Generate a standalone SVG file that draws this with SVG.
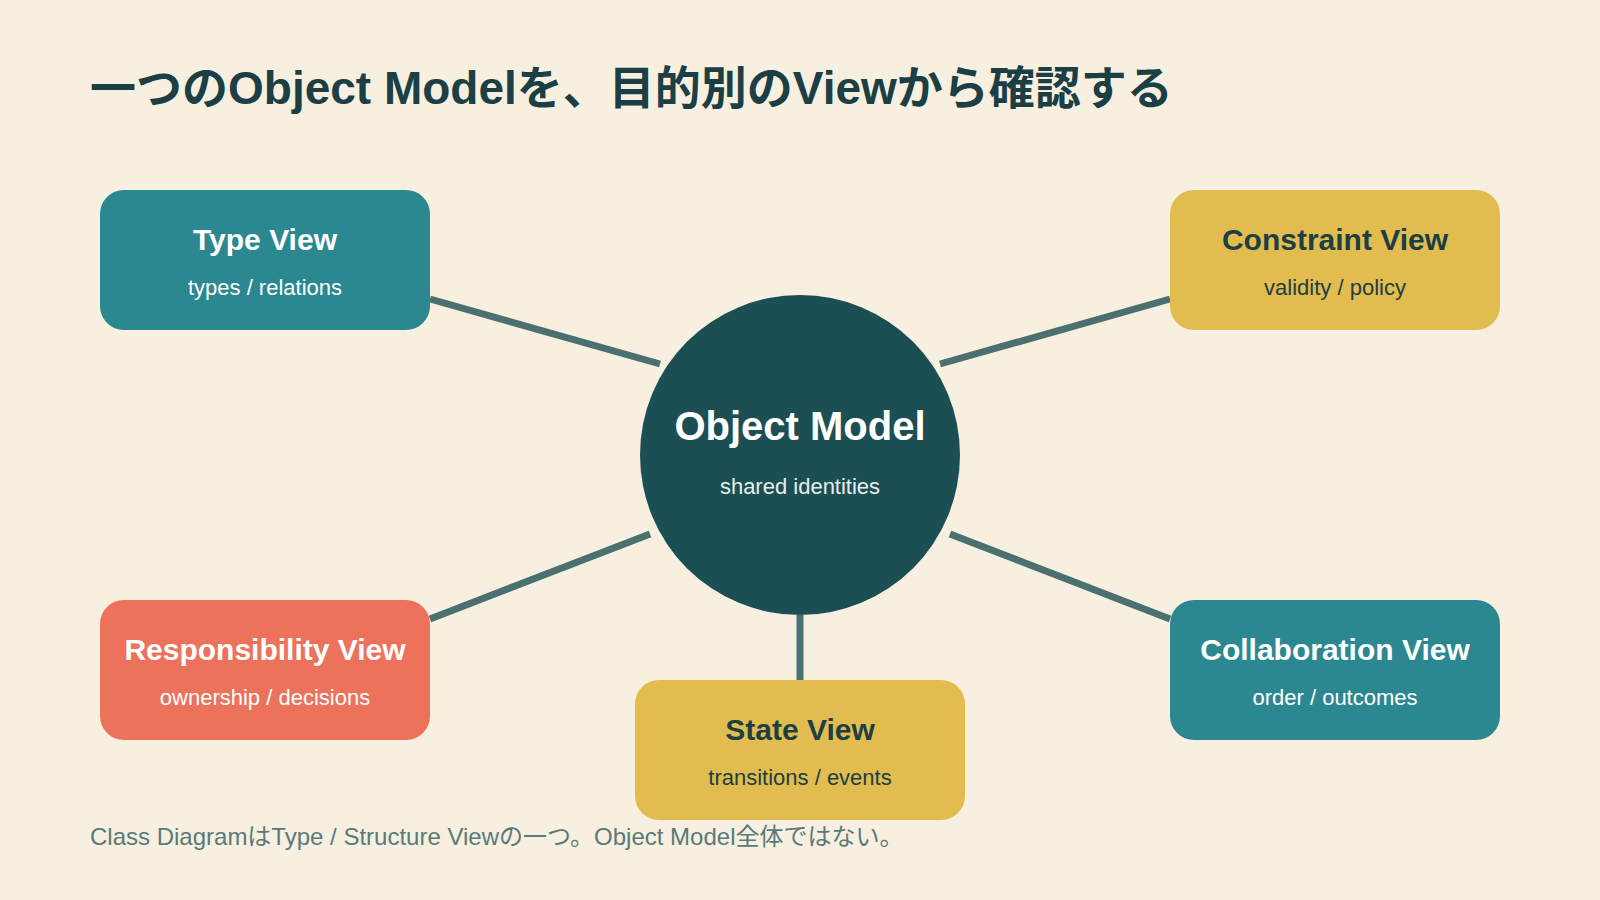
<svg xmlns="http://www.w3.org/2000/svg" width="1600" height="900" viewBox="0 0 1600 900">
<style>
text{font-family:"Liberation Sans","Noto Sans CJK JP",sans-serif;text-anchor:middle}
.t{font-size:30px;font-weight:bold}
.s{font-size:22px}
.w{fill:#ffffff}
.d{fill:#1b3f44}
.c{stroke:#4a7070;stroke-width:7;fill:none}
</style>
<rect width="1600" height="900" fill="#f7f0e0"/>
<text x="90" y="104" style="text-anchor:start;font-size:46px;font-weight:bold" fill="#1b3f44">一つのObject Modelを、目的別のViewから確認する</text>
<g id="connectors">
<line class="c" x1="430" y1="299" x2="660" y2="364"/>
<line class="c" x1="1170" y1="299" x2="940" y2="364"/>
<line class="c" x1="430" y1="619" x2="650" y2="534"/>
<line class="c" x1="1170" y1="619" x2="950" y2="534"/>
<line class="c" x1="800" y1="615" x2="800" y2="680"/>
</g>
<g id="center">
<circle cx="800" cy="455" r="160" fill="#1b4f53"/>
<text x="800" y="440" class="w" style="font-size:40px;font-weight:bold">Object Model</text>
<text x="800" y="494" class="s" fill="#e8eeee">shared identities</text>
</g>
<g id="type">
<rect x="100" y="190" width="330" height="140" rx="24" fill="#2b8890"/>
<text x="265" y="250" class="t w">Type View</text>
<text x="265" y="295" class="s w">types / relations</text>
</g>
<g id="constraint">
<rect x="1170" y="190" width="330" height="140" rx="24" fill="#e2bc4e"/>
<text x="1335" y="250" class="t d">Constraint View</text>
<text x="1335" y="295" class="s d">validity / policy</text>
</g>
<g id="responsibility">
<rect x="100" y="600" width="330" height="140" rx="24" fill="#ec725c"/>
<text x="265" y="660" class="t w">Responsibility View</text>
<text x="265" y="705" class="s w">ownership / decisions</text>
</g>
<g id="collaboration">
<rect x="1170" y="600" width="330" height="140" rx="24" fill="#2b8890"/>
<text x="1335" y="660" class="t w">Collaboration View</text>
<text x="1335" y="705" class="s w">order / outcomes</text>
</g>
<g id="state">
<rect x="635" y="680" width="330" height="140" rx="24" fill="#e2bc4e"/>
<text x="800" y="740" class="t d">State View</text>
<text x="800" y="785" class="s d">transitions / events</text>
</g>
<text x="90" y="845" style="text-anchor:start;font-size:24px" fill="#5a7a7a">Class DiagramはType / Structure Viewの一つ。Object Model全体ではない。</text>
</svg>
